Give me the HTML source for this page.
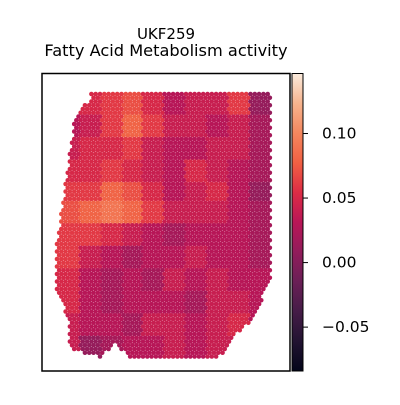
<!DOCTYPE html>
<html><head><meta charset="utf-8"><style>
body{margin:0;background:#fff;font-family:"Liberation Sans","DejaVu Sans",sans-serif;}
svg text{font-family:"DejaVu Sans","Liberation Sans",sans-serif;}
</style></head><body>
<svg id="c" width="400" height="400" xmlns="http://www.w3.org/2000/svg">
<defs><linearGradient id="g" x1="0" y1="1" x2="0" y2="0">
<stop offset="0" stop-color="#03051a"/><stop offset="0.1" stop-color="#221331"/><stop offset="0.2" stop-color="#451c47"/><stop offset="0.3" stop-color="#6a1f56"/><stop offset="0.4" stop-color="#921c5b"/><stop offset="0.5" stop-color="#b91657"/><stop offset="0.6" stop-color="#dd2c45"/><stop offset="0.7" stop-color="#f06043"/><stop offset="0.8" stop-color="#f4875e"/><stop offset="0.9" stop-color="#f6b48e"/><stop offset="1" stop-color="#faebdd"/>
</linearGradient></defs>
<text x="166" y="39" text-anchor="middle" font-size="15">UKF259</text>
<text x="166" y="56" text-anchor="middle" font-size="16.2">Fatty Acid Metabolism activity</text>
<g id="spots"></g>
<rect x="42" y="73.5" width="248" height="297.5" fill="none" stroke="#000" stroke-width="1.5"/>
<rect x="292" y="73.5" width="11" height="297.5" fill="url(#g)" stroke="#000" stroke-width="1"/>
<g id="cb"></g>
</svg>
<script>
const cbTicks=[0.10,0.05,0.00,-0.05];
const cbLabels=["0.10","0.05","0.00","−0.05"];
const vmin=-0.084, vmax=0.1465;
const gridValues=[
[0.04,0.05,0.06,0.07,0.05,0.03,0.04,0.04,0.06,0.01],
[0.03,0.04,0.06,0.08,0.06,0.04,0.04,0.03,0.04,0.02],
[0.04,0.05,0.05,0.06,0.04,0.03,0.03,0.04,0.04,0.02],
[0.05,0.05,0.06,0.05,0.04,0.03,0.05,0.04,0.03,0.02],
[0.06,0.06,0.08,0.07,0.05,0.03,0.04,0.05,0.03,0.01],
[0.07,0.08,0.09,0.08,0.06,0.04,0.04,0.04,0.03,0.02],
[0.06,0.06,0.05,0.04,0.03,0.02,0.03,0.03,0.03,0.02],
[0.06,0.04,0.03,0.02,0.03,0.03,0.04,0.03,0.03,0.02],
[0.05,0.03,0.02,0.03,0.02,0.04,0.03,0.04,0.03,0.03],
[0.05,0.03,0.02,0.03,0.03,0.03,0.02,0.04,0.04,0.03],
[0.04,0.03,0.03,0.02,0.04,0.04,0.03,0.04,0.05,0.03],
[0.04,0.01,0.02,0.03,0.03,0.04,0.03,0.04,0.04,0.03]];
const NS="http://www.w3.org/2000/svg";
const stops=[[3,5,26],[34,19,49],[69,28,71],[106,31,86],[146,28,91],[185,22,87],[221,44,69],[240,96,67],[244,135,94],[246,180,142],[250,235,221]];
function cmap(v){let t=Math.max(0,Math.min(1,(v-vmin)/(vmax-vmin)))*10;let i=Math.min(9,Math.floor(t)),f=t-i;const a=stops[i],b=stops[i+1];return `rgb(${a.map((x,k)=>Math.round(x+(b[k]-x)*f)).join(',')})`;}
function cbY(v){return 73.5+(vmax-v)/(vmax-vmin)*297.5;}
const poly=[[90,92],[270,92],[272,100],[272,275],[262,300],[252,320],[233,337],[220,357],[130,357],[115,345],[100,357],[70,350],[68,320],[57,290],[57,240],[63,200],[70,150],[75,115],[90,100]];
function inside(x,y){let c=false;for(let i=0,j=poly.length-1;i<poly.length;j=i++){const[xi,yi]=poly[i],[xj,yj]=poly[j];if((yi>y)!=(yj>y)&&x<(xj-xi)*(y-yi)/(yj-yi)+xi)c=!c;}return c;}
const g=document.getElementById('spots');
const x0=57,x1=272,y0=92,y1=357,rows=gridValues.length,cols=gridValues[0].length;
let r=0;
for(let y=y0+2;y<=y1;y+=3.75,r++){
 for(let x=x0+(r%2?2.15:0);x<=x1;x+=4.3){
  if(!inside(x,y))continue;
  const ri=Math.min(rows-1,Math.floor((y-y0)/(y1-y0)*rows));
  const ci=Math.min(cols-1,Math.floor((x-x0)/(x1-x0)*cols));
  const c=document.createElementNS(NS,'circle');
  c.setAttribute('cx',x.toFixed(2));c.setAttribute('cy',y.toFixed(2));c.setAttribute('r','2.3');
  c.setAttribute('fill',cmap(gridValues[ri][ci]));
  
  
  g.appendChild(c);
 }
}
const cb=document.getElementById('cb');
cbTicks.forEach((v,i)=>{const y=cbY(v);
 const l=document.createElementNS(NS,'line');l.setAttribute('x1',303);l.setAttribute('x2',308);l.setAttribute('y1',y);l.setAttribute('y2',y);l.setAttribute('stroke','#000');
 
 
 cb.appendChild(l);
 const t=document.createElementNS(NS,'text');t.setAttribute('x',322);t.setAttribute('y',y+5);t.setAttribute('font-size','15.5');t.textContent=cbLabels[i];
 
 
 cb.appendChild(t);});
</script>
</body></html>
